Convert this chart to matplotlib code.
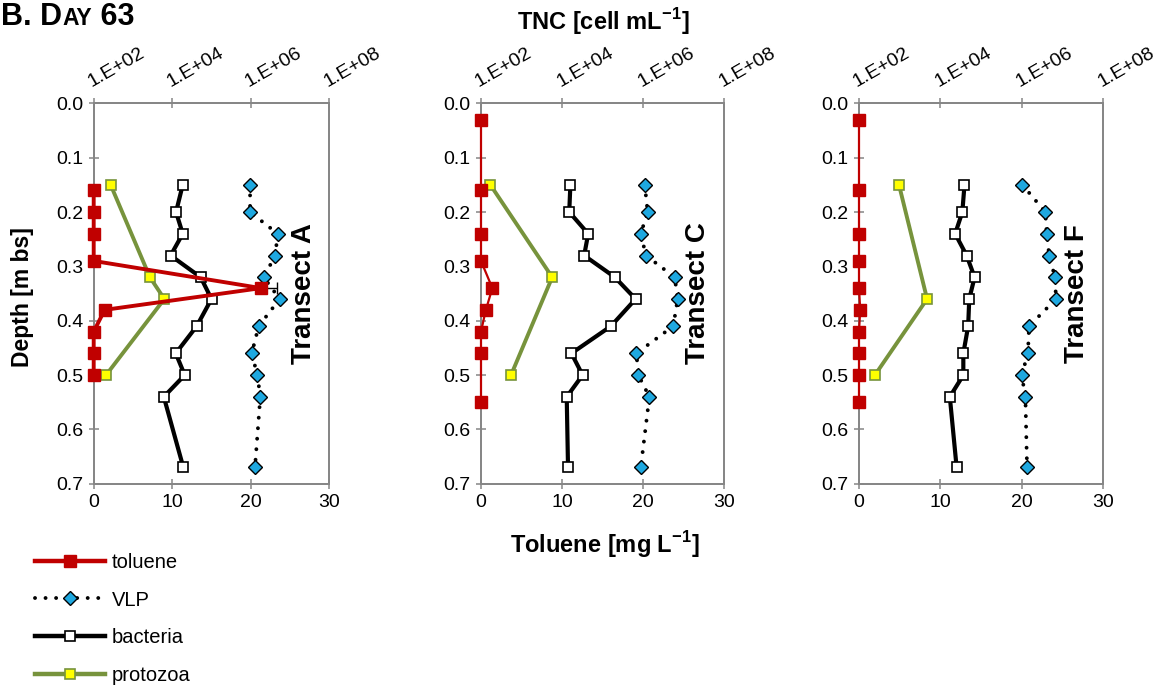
import matplotlib
matplotlib.use("Agg")
import matplotlib.pyplot as plt
from matplotlib.lines import Line2D
import numpy as np

plt.rcParams['font.family'] = ['Liberation Sans', 'DejaVu Sans']
plt.rcParams['mathtext.fontset'] = 'custom'
plt.rcParams['mathtext.rm'] = 'Liberation Sans'
plt.rcParams['mathtext.bf'] = 'Liberation Sans:bold'

# ---------------- data ----------------
transects = ["Transect A", "Transect C", "Transect F"]

tol_depth_A = [0.16, 0.20, 0.24, 0.29, 0.34, 0.38, 0.42, 0.46, 0.50]
tol_A = [0, 0, 0, 0, 21.3, 1.4, 0, 0, 0]
tol_err_A = [0, 0, 0, 0, 2.0, 0, 0, 0, 0]

tol_depth_C = [0.03, 0.16, 0.24, 0.29, 0.34, 0.38, 0.42, 0.46, 0.55]
tol_C = [0, 0, 0, 0, 1.4, 0.6, 0, 0, 0]
tol_err_C = [0, 0, 0, 0, 0, 0, 0, 0, 0]

tol_depth_F = [0.03, 0.16, 0.24, 0.29, 0.34, 0.38, 0.42, 0.46, 0.50, 0.55]
tol_F = [0, 0, 0, 0, 0, 0.15, 0, 0, 0, 0]
tol_err_F = [0, 0, 0, 0, 0, 0, 0, 0, 0, 0]

cell_depth = [0.15, 0.20, 0.24, 0.28, 0.32, 0.36, 0.41, 0.46, 0.50, 0.54, 0.67]

bac_A = [1.85e4, 1.25e4, 1.85e4, 9.1e3, 5.3e4, 1.0e5, 4.2e4, 1.23e4, 2.08e4, 6.1e3, 1.92e4]
bac_C = [1.6e4, 1.5e4, 4.4e4, 3.5e4, 2.0e5, 6.5e5, 1.6e5, 1.7e4, 3.2e4, 1.3e4, 1.4e4]
bac_F = [3.9e4, 3.45e4, 2.3e4, 4.4e4, 6.9e4, 5.1e4, 4.8e4, 3.65e4, 3.65e4, 1.7e4, 2.5e4]

vlp_A = [9.6e5, 9.6e5, 4.85e6, 4.2e6, 2.14e6, 5.45e6, 1.59e6, 1.06e6, 1.47e6, 1.75e6, 1.28e6]
vlp_C = [1.09e6, 1.29e6, 8.7e5, 1.17e6, 5.97e6, 7.1e6, 5.5e6, 6.8e5, 7.6e5, 1.42e6, 8.7e5]
vlp_F = [1.03e6, 3.77e6, 4.07e6, 4.7e6, 6.5e6, 6.9e6, 1.5e6, 1.41e6, 9.9e5, 1.22e6, 1.34e6]

proto_depth_A = [0.15, 0.32, 0.36, 0.50]
proto_A = [270, 2.7e3, 6.3e3, 206]
proto_depth_C = [0.15, 0.32, 0.50]
proto_C = [170, 5.7e3, 550]
proto_depth_F = [0.15, 0.36, 0.50]
proto_F = [960, 4.7e3, 246]

top_ticks = [1e2, 1e4, 1e6, 1e8]
top_labels = ["1.E+02", "1.E+04", "1.E+06", "1.E+08"]
bottom_ticks = [0, 10, 20, 30]
depth_ticks = [0.0, 0.1, 0.2, 0.3, 0.4, 0.5, 0.6, 0.7]

# ---------------- style ----------------
RED = "#C00000"
BLUE = "#1EA8E0"
GREEN = "#77933C"
YEL = "#FFFF00"
GRAY = "#868686"
FS = 14

W, H = 1172, 686
fig = plt.figure(figsize=(W / 100, H / 100), dpi=100)

boxes = [(93.7, 235.6), (481, 243.3), (859, 244.3)]
top_px, bot_px = 103.3, 483.8

panels = [
    (tol_depth_A, tol_A, tol_err_A, bac_A, vlp_A, proto_depth_A, proto_A, 2.8),
    (tol_depth_C, tol_C, tol_err_C, bac_C, vlp_C, proto_depth_C, proto_C, 1.6),
    (tol_depth_F, tol_F, tol_err_F, bac_F, vlp_F, proto_depth_F, proto_F, 1.6),
]

dot_style = (0, (0.01, 2.7))

for i, ((lx, wx), pdata, name) in enumerate(zip(boxes, panels, transects)):
    tdep, tol, terr, bac, vlp, pdep, pro, tlw = pdata
    ax = fig.add_axes([lx / W, 1 - bot_px / H, wx / W, (bot_px - top_px) / H])
    ax.set_xlim(0, 30)
    ax.set_ylim(0.7, 0.0)
    ax.set_xticks(bottom_ticks)
    ax.set_yticks(depth_ticks)
    ax.set_yticklabels([f"{d:.1f}" for d in depth_ticks])
    ax.tick_params(axis='both', direction='inout', length=7, width=1.1,
                   color=GRAY, labelsize=FS, pad=4)
    for s in ax.spines.values():
        s.set_color(GRAY)
        s.set_linewidth(1.3)

    ax2 = ax.twiny()
    ax2.set_xscale('log')
    ax2.set_xlim(1e2, 1e8)
    ax2.set_xticks(top_ticks)
    ax2.set_xticklabels(top_labels, rotation=30, ha='left', va='bottom',
                        rotation_mode='anchor')
    ax2.xaxis.set_minor_locator(matplotlib.ticker.NullLocator())
    ax2.tick_params(axis='x', direction='inout', length=7, width=1.1,
                    color=GRAY, labelsize=FS, pad=6)
    for s in ax2.spines.values():
        s.set_color(GRAY)
        s.set_linewidth(1.3)

    # toluene axis drawn above the cell-count axis
    ax.set_zorder(2)
    ax2.set_zorder(1)
    ax.patch.set_visible(False)

    ax2.plot(vlp, cell_depth, linestyle=dot_style, color='black', lw=2.8,
             dash_capstyle='round', marker='D', ms=6.8, mfc=BLUE, mec='black',
             mew=1.0, zorder=3)
    ax2.plot(bac, cell_depth, '-', color='black', lw=3.0, marker='s', ms=7.5,
             mfc='white', mec='black', mew=1.2, zorder=4)
    ax2.plot(pro, pdep, '-', color=GREEN, lw=2.8, marker='s', ms=7.5,
             mfc=YEL, mec=GREEN, mew=1.2, zorder=5)

    eb = ax.errorbar(tol, tdep, xerr=[np.zeros(len(terr)), terr], fmt='-s',
                     color=RED, lw=tlw, ms=8.8, mfc=RED, mec=RED,
                     ecolor='black', elinewidth=1.0, capsize=4, capthick=1.0,
                     zorder=6)
    for art in eb.lines[0:1]:
        art.set_clip_on(False)

    ax.text(26.8, 0.35, name, rotation=90, ha='center', va='center',
            fontsize=20, fontweight='bold', zorder=10)

# axis titles
fig.text(23 / W, 1 - 297 / H, "Depth [m bs]", rotation=90, ha='center',
         va='center', fontsize=16.5, fontweight='bold')
fig.text(605 / W, 1 - 553 / H, "Toluene [mg L$^{\\mathbf{-1}}$]", ha='center',
         va='baseline', fontsize=17, fontweight='bold')
fig.text(603 / W, 1 - 30 / H, "TNC [cell mL$^{\\mathbf{-1}}$]", ha='center',
         va='baseline', fontsize=17, fontweight='bold')

# title in small caps, pieces placed along a common baseline
base_y = 1 - 25 / H
parts = [("B. D", 22), ("AY", 16.5), (" 63", 22)]
fig.canvas.draw()
r = fig.canvas.get_renderer()
x = 1 / W
for txt, fs in parts:
    t = fig.text(x, base_y, txt, fontsize=fs, fontweight='bold',
                 ha='left', va='baseline')
    bb = t.get_window_extent(renderer=r)
    x = bb.x1 / W

# legend
handles = [
    Line2D([], [], color=RED, lw=3.2, marker='s', ms=8.8, mfc=RED, mec=RED),
    Line2D([], [], color='black', lw=2.8, linestyle=dot_style,
           dash_capstyle='round', marker='D', ms=6.8, mfc=BLUE, mec='black'),
    Line2D([], [], color='black', lw=3.2, marker='s', ms=7.5, mfc='white',
           mec='black', mew=1.2),
    Line2D([], [], color=GREEN, lw=3.2, marker='s', ms=7.5, mfc=YEL, mec=GREEN,
           mew=1.2),
]
fig.legend(handles, ["toluene", "VLP", "bacteria", "protozoa"],
           loc='upper left', bbox_to_anchor=(35 / W, 1 - 553 / H),
           frameon=False, fontsize=14.5, handlelength=3.5, handletextpad=0.3,
           labelspacing=0.92, borderpad=0, borderaxespad=0, markerscale=1)

fig.savefig("out.png", dpi=100)
